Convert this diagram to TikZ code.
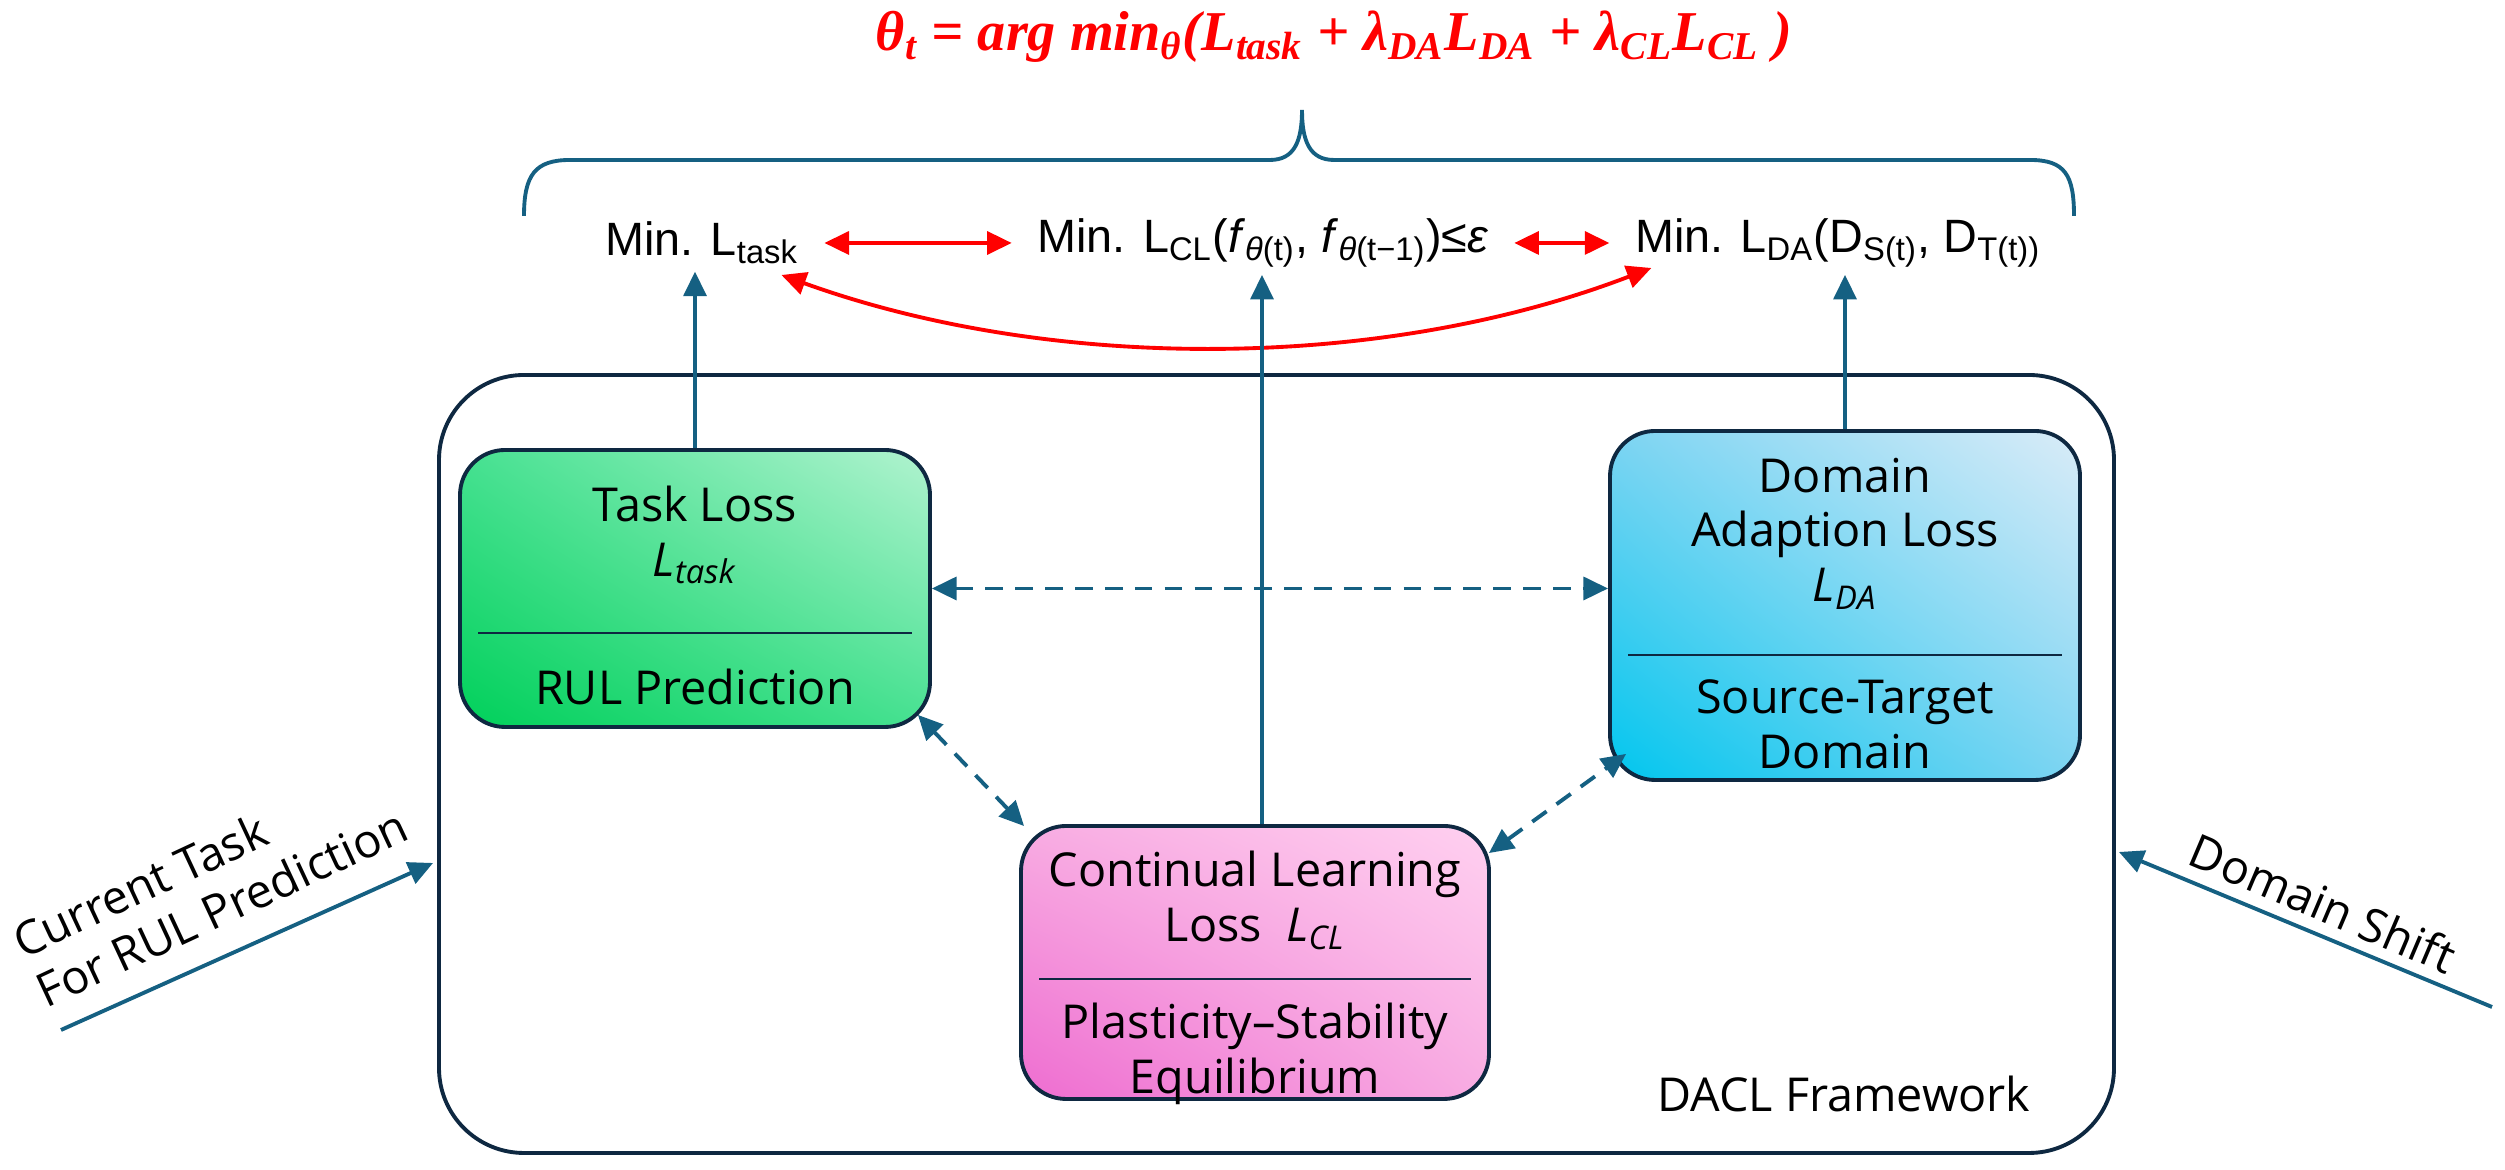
\documentclass[tikz,border=0pt]{standalone}
\usepackage{amsmath,amssymb}
\usepackage[no-math]{fontspec}
\setmainfont{Open Sans}
\newfontfamily\minfont{Liberation Sans}
\newfontfamily\objfont{Liberation Serif}
\usepackage{tikz}
\usetikzlibrary{arrows.meta,calc,positioning,shadings}
\definecolor{daclLine}{HTML}{0E2841}
\definecolor{daclTeal}{HTML}{156082}
\definecolor{daclRed}{HTML}{FF0000}
\definecolor{taskDark}{RGB}{0,208,90}
\definecolor{taskMid}{RGB}{70,225,145}
\definecolor{taskLight}{RGB}{178,243,208}
\definecolor{daDark}{RGB}{0,198,238}
\definecolor{daMid}{RGB}{125,212,242}
\definecolor{daLight}{RGB}{218,236,248}
\definecolor{clDark}{RGB}{238,108,208}
\definecolor{clMid}{RGB}{248,172,226}
\definecolor{clLight}{RGB}{255,208,240}
\tikzset{
  daclframe/.style={
    rectangle, rounded corners=0.85cm, draw=daclLine, line width=1.1pt
  },
  losscard/.style={
    rectangle, rounded corners=0.45cm, draw=daclLine, line width=1.1pt
  },
  losstext/.style={align=center, font=\fontsize{13.3}{15.6}\selectfont, inner sep=0pt},
  minlabel/.style={font=\minfont\fontsize{13.3}{16}\selectfont, inner xsep=0.25cm, inner ysep=2pt},
  lossrule/.style={draw=daclLine, line width=0.6pt},
  daclarrow/.style={-{Triangle[length=7pt,width=6.5pt]}, line width=1.1pt, draw=daclTeal},
  dacldash/.style={{Triangle[length=7pt,width=6.5pt]}-{Triangle[length=7pt,width=6.5pt]},
    line width=1.1pt, draw=daclTeal, dash pattern=on 5pt off 3.5pt},
  daclred/.style={{Triangle[length=7pt,width=6.5pt]}-{Triangle[length=7pt,width=6.5pt]},
    line width=1.1pt, draw=daclRed},
  daclnote/.style={font=\fontsize{13.3}{15.6}\selectfont, align=left}
}

\begin{document}
\begin{tikzpicture}[x=1cm,y=1cm]
  \useasboundingbox (0,0) rectangle (25.05,11.7);

  % objective and brace
  \node[text=daclRed, font=\objfont\bfseries\itshape\fontsize{16}{19}\selectfont] (obj) at (13.34,11.33)
    {θ\textsubscript{t} = arg min\textsubscript{θ}(L\textsubscript{task} + λ\textsubscript{DA}L\textsubscript{DA} + λ\textsubscript{CL}L\textsubscript{CL} )};
  \draw[draw=daclTeal, line width=1.1pt]
    (5.24,9.54) .. controls (5.24,9.95) and (5.35,10.1) .. (5.7,10.1) -- (12.7,10.1)
    .. controls (12.95,10.1) and (13.02,10.3) .. (13.02,10.6)
    .. controls (13.02,10.3) and (13.09,10.1) .. (13.34,10.1) -- (20.3,10.1)
    .. controls (20.65,10.1) and (20.74,9.95) .. (20.74,9.54);

  \node[minlabel] (mtask) at (7.02,9.27) {Min. L\textsubscript{task}};
  \node[minlabel] (mcl) at (12.63,9.27)
    {Min. L\textsubscript{CL}(\textit{f}\textsubscript{\textit{θ}(t)}, \textit{f}\textsubscript{\textit{θ}(t−1)})≤\textit{ε}};
  \node[minlabel] (mda) at (18.38,9.27)
    {Min. L\textsubscript{DA}(D\textsubscript{S(t)}, D\textsubscript{T(t))}};
  \draw[daclred] (mtask) -- (mcl);
  \draw[daclred] (mcl) -- (mda);
  \draw[daclred] ($(mtask.east)+(-0.43,-0.32)$)
    .. controls (10.5,7.98) and (13.8,7.98) .. ($(mda.west)+(0.42,-0.25)$);

  % framework and loss cards
  \node[daclframe, minimum width=16.75cm, minimum height=7.78cm] (frame) at (12.765,4.06) {};

  \node[losscard, upper left=taskMid, upper right=taskLight, lower left=taskDark,
    lower right=taskMid, minimum width=4.7cm, minimum height=2.77cm] (task) at (6.95,5.815) {};
  \node[losstext] (tasktitle) at (6.95,6.35) {Task Loss\\\textit{L}\textsubscript{\textit{task}}};
  \draw[lossrule] ($(task.west)+(0.2,-0.445)$) -- ($(task.east)+(-0.2,-0.445)$);
  \node[losstext] (tasksub) at (6.95,4.83) {RUL Prediction};

  \node[losscard, upper left=daMid, upper right=daLight, lower left=daDark,
    lower right=daMid, minimum width=4.7cm, minimum height=3.49cm] (da) at (18.45,5.645) {};
  \node[losstext] (datitle) at (18.45,6.365) {Domain\\Adaption Loss\\\textit{L}\textsubscript{\textit{DA}}};
  \draw[lossrule] ($(da.west)+(0.2,-0.495)$) -- ($(da.east)+(-0.2,-0.495)$);
  \node[losstext] (dasub) at (18.45,4.455) {Source-Target\\Domain};

  \node[losscard, upper left=clMid, upper right=clLight, lower left=clDark,
    lower right=clMid, minimum width=4.68cm, minimum height=2.73cm] (cl) at (12.55,2.075) {};
  \node[losstext] (cltitle) at (12.55,2.695) {Continual Learning\\Loss \ \textit{L}\textsubscript{\textit{CL}}};
  \draw[lossrule] ($(cl.west)+(0.2,-0.165)$) -- ($(cl.east)+(-0.2,-0.165)$);
  \node[losstext] (clsub) at (12.55,1.165) {Plasticity–Stability\\Equilibrium};

  % links
  \coordinate (clup) at ($(cl.north)+(0.07,0)$);
  \draw[daclarrow] (task.north) -- (task.north |- mtask.south);
  \draw[daclarrow] (clup) -- (clup |- mcl.south);
  \draw[daclarrow] (da.north) -- (da.north |- mda.south);
  \draw[dacldash] (task.east) -- (task.east -| da.west);
  \draw[dacldash] ($(task.south east)+(-0.14,0.14)$) -- ($(cl.north west)+(0.05,-0.02)$);
  \draw[dacldash] ($(cl.north east)+(-0.02,-0.29)$) -- ($(da.south west)+(0.18,0.28)$);

  % inputs
  \coordinate (taskin) at (0.61,1.40);
  \coordinate (shiftin) at (24.92,1.63);
  \draw[daclarrow] (taskin) -- ($(frame.west)+(-0.04,-0.99)$);
  \draw[daclarrow] (shiftin) -- ($(frame.east)+(0.03,-0.88)$);
  \node[daclnote, rotate=25] (tasklbl) at (2.10,2.87) {Current Task\\For RUL Prediction};
  \node[daclnote, rotate=-23] (shiftlbl) at (23.23,2.67) {Domain Shift};
  \node[daclnote] (framelbl) at (18.44,0.76) {DACL Framework};
\end{tikzpicture}
\end{document}
